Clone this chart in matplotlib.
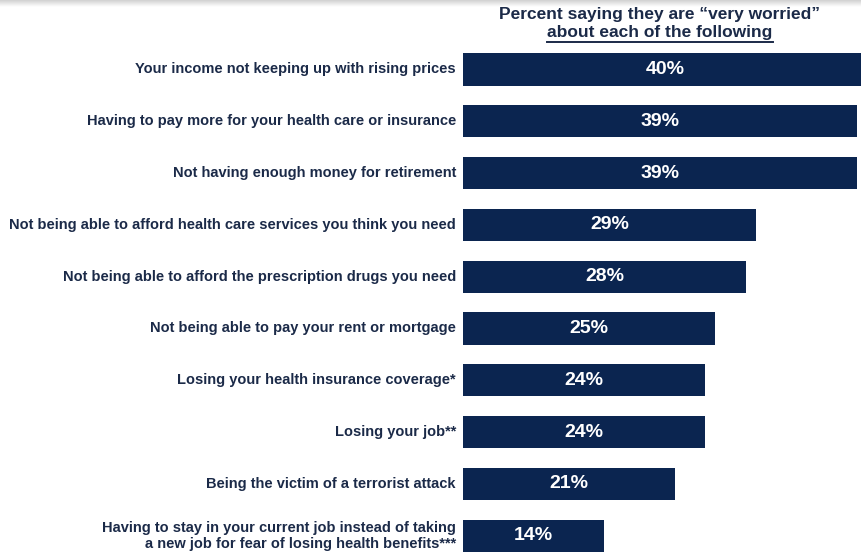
import numpy as np
import matplotlib
matplotlib.use("Agg")
import matplotlib.pyplot as plt
from matplotlib.lines import Line2D

plt.rcParams["font.family"] = ["Liberation Sans", "DejaVu Sans"]

items = [
    "Your income not keeping up with rising prices",
    "Having to pay more for your health care or insurance",
    "Not having enough money for retirement",
    "Not being able to afford health care services you think you need",
    "Not being able to afford the prescription drugs you need",
    "Not being able to pay your rent or mortgage",
    "Losing your health insurance coverage*",
    "Losing your job**",
    "Being the victim of a terrorist attack",
    "Having to stay in your current job instead of taking\na new job for fear of losing health benefits***",
]
very_worried = [40, 39, 39, 29, 28, 25, 24, 24, 21, 14]

NAVY = "#0b2550"
TEXT = "#1b2a48"

W, H = 862, 554
fig = plt.figure(figsize=(W / 100, H / 100), dpi=100)

# bar area: starts at x=463px, rows ~52px apart
left_px = 463
ax = fig.add_axes([left_px / W, 0, 1 - left_px / W, 1])
px_per_pct = 10.1
row = 51.8
first = 69.5
ax.set_xlim(0, (W - left_px) / px_per_pct)
ax.set_ylim((H - first) / row, -first / row)
ax.axis("off")

ypos = np.arange(len(items))
ax.barh(ypos, very_worried, height=0.62, color=NAVY)

for y, label, v in zip(ypos, items, very_worried):
    ax.text(v / 2, y, f"{v}%", color="white", fontsize=14, fontweight="bold",
            ha="center", va="center")
    ax.text(-7 / px_per_pct, y, label, color=TEXT, fontsize=10.5, fontweight="bold",
            ha="right", va="center", multialignment="right", clip_on=False,
            linespacing=1.15)

# heading with underlined second line
cx = 660 / W
fig.text(cx, 1 - 14 / H, "Percent saying they are \u201cvery worried\u201d", color=TEXT,
         fontsize=12.5, fontweight="bold", ha="center", va="center")
t2 = fig.text(cx, 1 - 33 / H, "about each of the following", color=TEXT,
              fontsize=12.5, fontweight="bold", ha="center", va="center")
fig.canvas.draw()
bb = t2.get_window_extent().transformed(fig.transFigure.inverted())
fig.add_artist(Line2D([bb.x0, bb.x1], [bb.y0 - 1 / H, bb.y0 - 1 / H],
                      transform=fig.transFigure, color=TEXT, lw=1.4))

# soft grey band along the top edge
band = fig.add_axes([0, 1 - 7 / H, 1, 7 / H])
band.imshow(np.linspace(0.82, 1.0, 20).reshape(-1, 1), cmap="gray", vmin=0, vmax=1,
            aspect="auto", extent=(0, 1, 0, 1))
band.axis("off")

fig.savefig("out.png", dpi=100)
